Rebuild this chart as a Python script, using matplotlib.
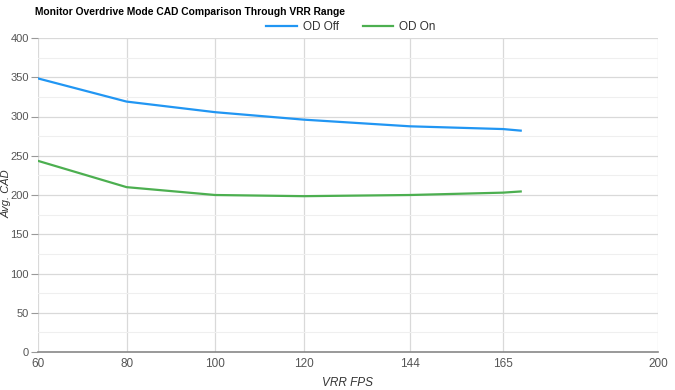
import matplotlib
matplotlib.use("Agg")
import matplotlib.pyplot as plt
from matplotlib.ticker import MultipleLocator

plt.rcParams["font.family"] = ["Liberation Sans", "DejaVu Sans"]

fps = [60, 80, 100, 120, 144, 165, 169]
od_off = [348.5, 319, 305.5, 296, 287.5, 284, 282]
od_on = [243.5, 210, 200, 198.5, 200, 203, 204.5]
xticks = [60, 80, 100, 120, 144, 165, 200]

fig = plt.figure(figsize=(6.75, 3.9), dpi=100)
ax = fig.add_axes([38 / 675, 38 / 390, 620 / 675, 314 / 390])

ax.plot(fps, od_off, color="#2196F3", lw=1.6, label="OD Off")
ax.plot(fps, od_on, color="#4CAF50", lw=1.6, label="OD On")

ax.set_xlim(60, 200); ax.set_ylim(0, 400)
ax.set_xticks(xticks)
ax.yaxis.set_major_locator(MultipleLocator(50))
ax.yaxis.set_minor_locator(MultipleLocator(25))
ax.grid(which="major", color="#d9d9d9", lw=0.9)
ax.grid(which="minor", axis="y", color="#efefef", lw=0.8)
ax.set_axisbelow(True)
for s in ["top", "right", "left"]:
    ax.spines[s].set_visible(False)
ax.spines["bottom"].set_color("#888888"); ax.spines["bottom"].set_linewidth(1.2)
ax.tick_params(axis="x", length=0, pad=4, labelsize=8.5, colors="#555555")
ax.tick_params(axis="y", which="major", length=5, color="#999999", pad=1.5, labelsize=8, labelcolor="#555555")
ax.tick_params(axis="y", which="minor", length=0)

ax.set_xlabel("VRR FPS", fontstyle="italic", fontsize=8.5, color="#333333", labelpad=5)
# y label placed by hand, the tick labels leave little room
fig.text(7 / 675, 1 - 194 / 390, "Avg. CAD", rotation=90, fontstyle="italic", fontsize=8,
         color="#333333", ha="center", va="center")

fig.text(35 / 675, 1 - 12 / 390, "Monitor Overdrive Mode CAD Comparison Through VRR Range",
         fontsize=7.4, fontweight="bold", va="center", ha="left")
fig.legend(loc="center", bbox_to_anchor=(0.52, 1 - 27 / 390), ncol=2, frameon=False,
           fontsize=8.5, handlelength=2.6, columnspacing=2.0, handletextpad=0.5,
           labelcolor="#333333")

fig.savefig("out.png", dpi=100)
